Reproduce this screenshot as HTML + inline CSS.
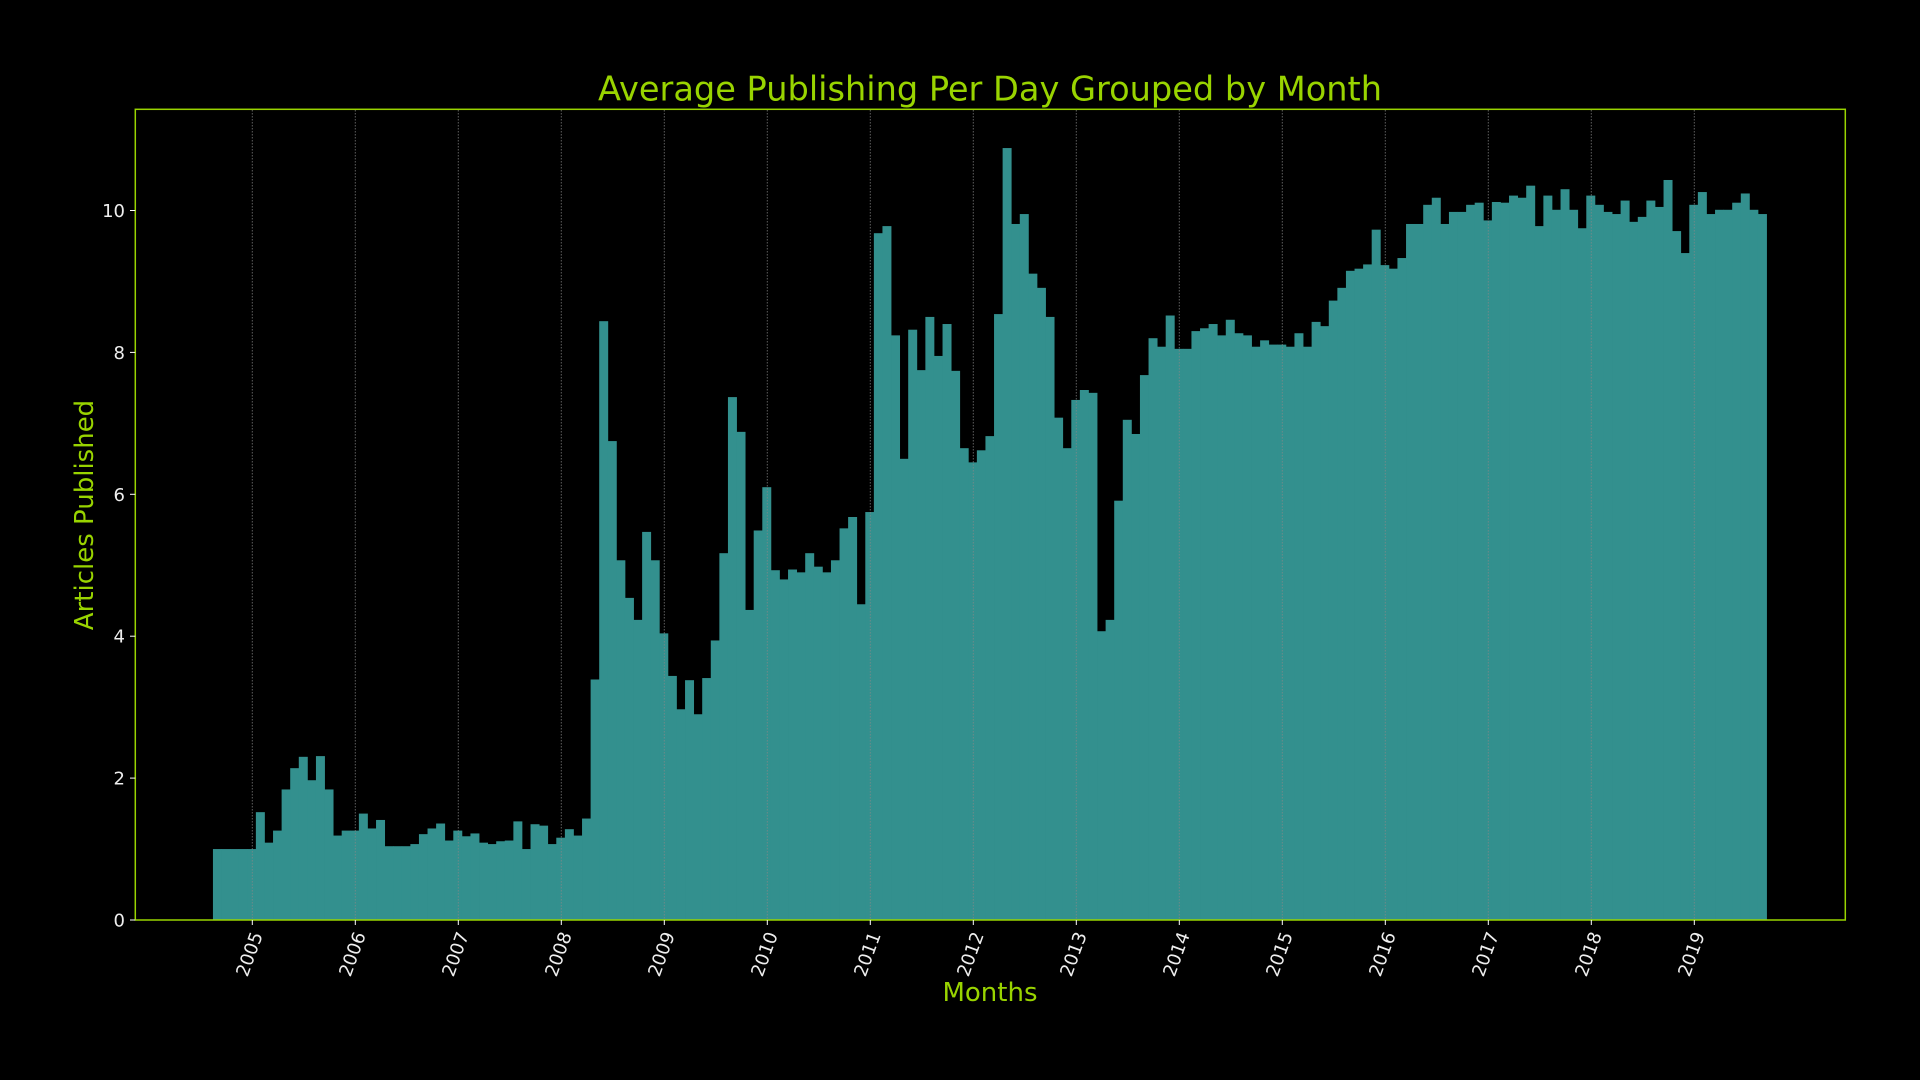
<!DOCTYPE html>
<html>
<head>
<meta charset="utf-8">
<style>
  html, body { margin: 0; padding: 0; background: #000; }
  svg { display: block; }
  text { font-family: "DejaVu Sans", "Liberation Sans", sans-serif; }
</style>
</head>
<body>
<svg id="chart" width="1920" height="1080" viewBox="0 0 1920 1080" xmlns="http://www.w3.org/2000/svg">
  <rect x="0" y="0" width="1920" height="1080" fill="#000"/>
  <g id="bars"></g>
  <g id="gridTop"></g>
  <rect x="135.3" y="109.3" width="1710" height="810.7" fill="none" stroke="#99d400" stroke-width="1.5"/>
  <g id="yticks"></g>
  <g id="xticks"></g>
  <text x="990" y="100.5" text-anchor="middle" font-size="33.6" fill="#99d400">Average Publishing Per Day Grouped by Month</text>
  <text transform="translate(93,515) rotate(-90)" text-anchor="middle" font-size="26" fill="#99d400">Articles Published</text>
  <text x="990" y="1001" text-anchor="middle" font-size="26" fill="#99d400">Months</text>
</svg>
<script>
const startYear = 2004;
const startMonth = 8;
const values = [
  1.0,1.0,1.0,1.0,1.0,
  1.52,1.09,1.26,1.84,2.14,2.30,1.97,2.31,1.84,1.19,1.26,1.26,1.50,1.29,1.41,1.04,1.04,1.04,1.07,1.21,1.29,1.36,1.12,1.26,1.18,1.22,1.09,1.07,1.11,1.12,1.39,1.0,1.35,1.33,1.07,1.16,1.28,1.19,1.43,3.39,
  8.44,
  6.75,5.07,4.54,4.23,5.47,5.07,4.04,3.44,2.97,3.38,2.90,3.41,3.94,5.17,7.37,6.88,4.37,5.49,6.10,4.93,4.80,4.94,4.90,5.17,4.98,4.90,5.07,5.52,5.68,4.45,5.75,9.68,9.78,8.24,6.50,8.32,7.75,8.50,7.95,8.40,7.74,6.65,6.45,6.62,6.82,
  8.54,
  10.88,9.81,9.95,9.11,8.91,8.50,7.08,6.65,7.33,7.47,7.43,4.07,4.23,5.91,7.05,6.85,7.68,8.20,8.08,8.52,8.05,8.05,8.30,8.34,8.40,8.24,8.46,8.27,8.24,8.08,8.17,8.11,8.11,8.08,8.27,8.08,8.43,8.37,8.73,8.91,9.15,9.18,9.24,9.73,9.23,
  9.18,
  9.33,9.81,9.81,10.08,10.18,9.81,9.98,9.98,10.08,10.11,9.86,10.12,10.11,10.21,10.18,10.35,9.78,10.21,10.01,10.30,10.01,9.75,10.21,10.08,9.98,9.95,10.14,9.84,9.91,10.14,10.05,10.43,9.71,9.40,10.08,10.26,9.95,10.01,10.01,10.11,10.24,10.01,9.95
];
const categories = [];
for (let i = 0; i < values.length; i++) {
  const m = startMonth - 1 + i;
  categories.push((startYear + Math.floor(m / 12)) + '-' + String(m % 12 + 1).padStart(2, '0'));
}
const yTicks = [0, 2, 4, 6, 8, 10];
const xTickYears = [2005, 2006, 2007, 2008, 2009, 2010, 2011, 2012, 2013, 2014, 2015, 2016, 2017, 2018, 2019];

const NS = 'http://www.w3.org/2000/svg';
const X0 = 252.3, PX_PER_YEAR = 103;
const Y0 = 920, PX_PER_UNIT = 70.95;
function xScale(yr) { return X0 + (yr - 2005) * PX_PER_YEAR; }
function yScale(v) { return Y0 - v * PX_PER_UNIT; }
function catToYear(c) { const p = c.split('-'); return +p[0] + (+p[1]) / 12 - 0.007; }

const barsG = document.getElementById('bars');
categories.forEach((c, i) => {
  const center = catToYear(c);
  const xl = xScale(center - 0.5 / 12), xr = xScale(center + 0.5 / 12);
  const r = document.createElementNS(NS, 'rect');
  r.setAttribute('x', xl.toFixed(2));
  r.setAttribute('width', (xr - xl + 0.4).toFixed(2));
  r.setAttribute('y', yScale(values[i]).toFixed(2));
  r.setAttribute('height', (Y0 - yScale(values[i])).toFixed(2));
  r.setAttribute('fill', '#33908e');
  
  
  barsG.appendChild(r);
});

const gridG = document.getElementById('gridTop');
const xG = document.getElementById('xticks');
xTickYears.forEach(yr => {
  const x = xScale(yr);
  const gl = document.createElementNS(NS, 'line');
  gl.setAttribute('x1', x); gl.setAttribute('x2', x);
  gl.setAttribute('y1', 110); gl.setAttribute('y2', Y0);
  gl.setAttribute('stroke', '#888');
  gl.setAttribute('stroke-opacity', '0.7');
  gl.setAttribute('stroke-width', '1');
  gl.setAttribute('stroke-dasharray', '1.5,1.5');
  
  
  gridG.appendChild(gl);
  const tk = document.createElementNS(NS, 'line');
  tk.setAttribute('x1', x); tk.setAttribute('x2', x);
  tk.setAttribute('y1', Y0); tk.setAttribute('y2', Y0 + 5);
  tk.setAttribute('stroke', '#fff');
  tk.setAttribute('stroke-width', '1');
  
  
  xG.appendChild(tk);
  const t = document.createElementNS(NS, 'text');
  t.setAttribute('transform', 'translate(' + (x + 6) + ',' + (Y0 + 13) + ') rotate(-70)');
  t.setAttribute('text-anchor', 'end');
  t.setAttribute('font-size', '18');
  t.setAttribute('fill', '#eee');
  t.setAttribute('dominant-baseline', 'middle');
  t.textContent = yr;
  
  
  xG.appendChild(t);
});

const yG = document.getElementById('yticks');
yTicks.forEach(v => {
  const y = yScale(v);
  const tk = document.createElementNS(NS, 'line');
  tk.setAttribute('x1', 130); tk.setAttribute('x2', 135.3);
  tk.setAttribute('y1', y); tk.setAttribute('y2', y);
  tk.setAttribute('stroke', '#fff');
  tk.setAttribute('stroke-width', '1');
  
  
  yG.appendChild(tk);
  const t = document.createElementNS(NS, 'text');
  t.setAttribute('x', 125);
  t.setAttribute('y', y + 6.5);
  t.setAttribute('text-anchor', 'end');
  t.setAttribute('font-size', '18');
  t.setAttribute('fill', '#eee');
  t.textContent = v;
  
  
  yG.appendChild(t);
});
</script>
</body>
</html>
